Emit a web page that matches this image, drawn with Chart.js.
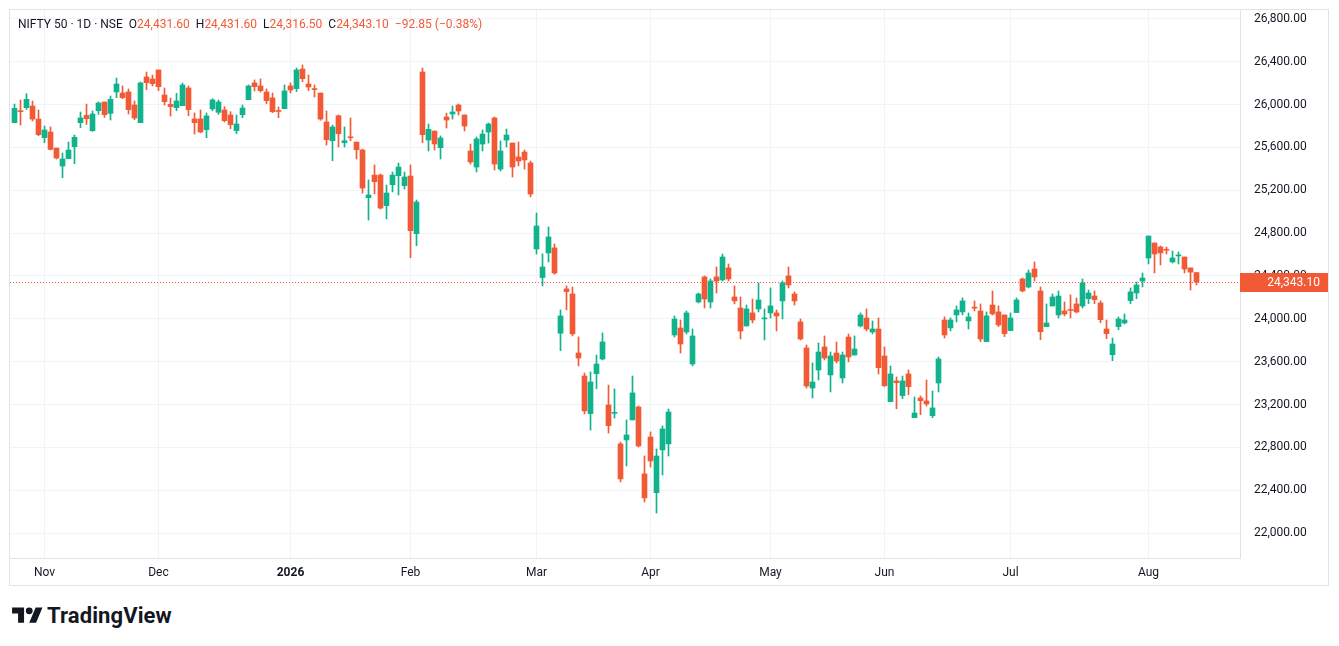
<!DOCTYPE html>
<html>
<head>
<meta charset="utf-8">
<title>NIFTY 50 · 1D · NSE</title>
<script src="https://cdn.jsdelivr.net/npm/chart.js@4.4.1/dist/chart.umd.min.js"></script>
<style>
  body { margin: 0; background: #fff; font-family: Roboto, 'Noto Sans', sans-serif; }
  #frame { position: absolute; left: 9px; top: 9px; width: 1318px; height: 575px; border: 1px solid #e0e3eb; }
  #chart-box { position: absolute; left: 0; top: 0; width: 1318px; height: 575px; }
  #legend { position: absolute; left: 8px; top: 7px; font-size: 12px; color: #131722; white-space: nowrap; }
  #legend .val { color: #f15a35; }
  #legend .gap { margin-left: 6px; }
  #logo { position: absolute; left: 12px; top: 603px; display: flex; align-items: center; color: #131722; }
  #logo span { font-size: 22px; font-weight: 700; margin-left: 4px; letter-spacing: 0.1px; }
</style>
</head>
<body>
<div id="frame">
  <div id="chart-box"><canvas id="candles"></canvas></div>
  <div id="legend"></div>
</div>
<div id="logo">
  <svg width="31" height="24" viewBox="0 0 36 28" fill="#131722"><path d="M14 22H7V11H0V4h14v18zM28 22h-8l7.5-18h8L28 22z"/><circle cx="20" cy="8" r="4"/></svg>
  <span>TradingView</span>
</div>
<script>
// Daily OHLC, one entry per trading session (late Oct 2025 .. mid Aug 2026)
const opens = [
  25831, 25940, 25971, 25987, 25865, 25691, 25744, 25594, 25426, 25495,
  25607, 25831, 25899, 25756, 25943, 26024, 25918, 26118, 26108, 26118,
  25996, 25831, 26258, 26239, 26323, 26090, 26002, 25971, 25990, 26155,
  25866, 25866, 25766, 25959, 25928, 25950, 25903, 25757, 25906, 26046,
  26202, 26174, 26118, 26062, 25940, 25962, 26174, 26149, 26332, 26192,
  26146, 26108, 25837, 25663, 25896, 25644, 25694, 25650, 25576, 25131,
  25342, 25342, 25056, 25252, 25336, 25243, 25333, 24795, 26304, 25669,
  25753, 25598, 25884, 25912, 25996, 25903, 25567, 25417, 25632, 25744,
  25875, 25398, 25669, 25641, 25511, 25557, 25455, 24652, 24385, 24615,
  24662, 23865, 24279, 24232, 23681, 23466, 23115, 23488, 23625, 23196,
  23118, 22832, 22869, 23056, 23177, 22552, 22897, 22377, 22776, 22832,
  23849, 23914, 23877, 23578, 24157, 24391, 24157, 24391, 24363, 24475,
  24204, 24101, 23933, 24055, 24092, 23999, 24055, 24055, 24167, 24400,
  24232, 23971, 23728, 23354, 23522, 23737, 23476, 23681, 23448, 23830,
  23662, 23933, 24008, 23877, 23905, 23653, 23227, 23420, 23283, 23485,
  23077, 23261, 23233, 23096, 23401, 23989, 23915, 24036, 24064, 23980,
  24107, 24073, 23787, 24129, 24064, 24036, 23890, 24058, 24372, 24297,
  24465, 24260, 23927, 24120, 24036, 24073, 24083, 24139, 24120, 24188,
  24213, 24148, 23905, 23665, 23927, 23961, 24170, 24241, 24353, 24568,
  24708, 24671, 24643, 24531, 24587, 24577, 24475, 24431.6
];
const highs = [
  26005, 26043, 26102, 26033, 25949, 25800, 25791, 25594, 25548, 25650,
  25716, 25931, 26005, 25940, 26024, 26024, 26080, 26248, 26174, 26146,
  26034, 26211, 26304, 26276, 26323, 26155, 26062, 26105, 26202, 26174,
  25922, 25950, 25922, 26055, 26043, 25981, 25934, 25903, 25996, 26183,
  26230, 26239, 26146, 26108, 25978, 26183, 26202, 26342, 26370, 26276,
  26183, 26108, 25940, 25809, 25903, 25791, 25875, 25650, 25585, 25296,
  25436, 25352, 25249, 25370, 25454, 25370, 25436, 25109, 26341, 25819,
  25753, 25707, 25921, 25987, 26005, 25903, 25632, 25697, 25763, 25828,
  25884, 25660, 25772, 25641, 25651, 25576, 25473, 24988, 24606, 24858,
  24699, 24083, 24307, 24297, 23831, 23494, 23504, 23662, 23868, 23382,
  23345, 22850, 23056, 23466, 23186, 22720, 22944, 22785, 23000, 23158,
  24026, 23989, 24073, 23905, 24241, 24400, 24372, 24484, 24605, 24512,
  24307, 24204, 24129, 24185, 24335, 24092, 24288, 24083, 24353, 24484,
  24251, 23999, 23756, 23588, 23774, 23840, 23690, 23784, 23690, 23858,
  23840, 24055, 24092, 23980, 24008, 23737, 23560, 23457, 23466, 23522,
  23270, 23280, 23429, 23326, 23644, 24017, 24008, 24120, 24195, 24055,
  24167, 24139, 24064, 24260, 24120, 24036, 24055, 24195, 24381, 24456,
  24531, 24297, 24139, 24232, 24260, 24157, 24223, 24195, 24372, 24269,
  24260, 24167, 23989, 23821, 24017, 24045, 24288, 24344, 24428, 24773,
  24708, 24680, 24671, 24633, 24624, 24577, 24475, 24431.6
];
const lows = [
  25831, 25809, 25955, 25847, 25710, 25644, 25576, 25492, 25317, 25495,
  25448, 25784, 25815, 25750, 25909, 25881, 25856, 26065, 26055, 25912,
  25859, 25831, 26139, 26174, 26130, 25996, 25893, 25943, 25990, 25897,
  25725, 25738, 25691, 25943, 25909, 25838, 25775, 25729, 25878, 26046,
  26127, 26118, 26009, 25925, 25878, 25962, 26108, 26121, 26214, 26130,
  26071, 25853, 25622, 25476, 25604, 25604, 25663, 25492, 25174, 24922,
  25165, 25025, 24932, 25184, 25156, 25212, 24571, 24683, 25644, 25567,
  25576, 25492, 25781, 25865, 25903, 25753, 25445, 25370, 25567, 25641,
  25389, 25380, 25604, 25324, 25427, 25398, 25137, 24605, 24307, 24531,
  24416, 23703, 24083, 23840, 23560, 23112, 22962, 23348, 23616, 22934,
  23074, 22477, 22626, 23056, 22804, 22290, 22617, 22187, 22542, 22719,
  23830, 23681, 23858, 23560, 24148, 24101, 24101, 24241, 24353, 24353,
  24139, 23812, 23933, 23961, 24064, 23802, 24008, 23887, 23999, 24288,
  24129, 23802, 23354, 23261, 23429, 23616, 23317, 23588, 23401, 23597,
  23662, 23924, 23887, 23859, 23485, 23367, 23227, 23161, 23255, 23292,
  23077, 23105, 23186, 23077, 23317, 23821, 23887, 23971, 24036, 23905,
  24073, 23787, 23787, 24036, 23927, 23834, 23890, 24058, 24251, 24288,
  24353, 23806, 23927, 24120, 24008, 24027, 24008, 24055, 24101, 24142,
  24142, 23964, 23815, 23609, 23899, 23952, 24142, 24188, 24297, 24512,
  24428, 24503, 24605, 24521, 24512, 24428, 24269, 24316.5
];
const closes = [
  25965, 25934, 26049, 25865, 25719, 25763, 25582, 25501, 25492, 25576,
  25694, 25875, 25868, 25912, 26015, 25906, 26049, 26192, 26065, 25953,
  25875, 26202, 26205, 26195, 26167, 26027, 25981, 26034, 26183, 25953,
  25831, 25744, 25894, 26043, 26024, 25850, 25813, 25819, 25968, 26174,
  26167, 26130, 26037, 25934, 25936, 26127, 26136, 26323, 26242, 26164,
  26140, 25865, 25672, 25791, 25728, 25663, 25690, 25579, 25221, 25156,
  25280, 25034, 25174, 25342, 25417, 25324, 24823, 25090, 25719, 25769,
  25632, 25688, 25856, 25931, 25940, 25800, 25464, 25679, 25725, 25819,
  25445, 25567, 25716, 25417, 25473, 25483, 25165, 24866, 24484, 24764,
  24428, 24027, 24254, 23859, 23634, 23140, 23410, 23578, 23784, 23003,
  23122, 22505, 22916, 23308, 22813, 22328, 22673, 22719, 22972, 23130,
  23998, 23765, 24055, 23840, 24232, 24185, 24353, 24353, 24577, 24372,
  24167, 23886, 24092, 23989, 24176, 24005, 24120, 24027, 24335, 24316,
  24167, 23812, 23373, 23410, 23690, 23634, 23653, 23606, 23662, 23644,
  23718, 24036, 23905, 23905, 23544, 23376, 23485, 23404, 23420, 23367,
  23121, 23236, 23205, 23168, 23625, 23849, 23989, 24083, 24167, 24017,
  24100, 23812, 24027, 24045, 23943, 23862, 24008, 24176, 24260, 24428,
  24391, 23880, 23961, 24204, 24213, 24045, 24078, 24064, 24335, 24241,
  24179, 23992, 23862, 23765, 23998, 23989, 24251, 24316, 24381, 24773,
  24605, 24615, 24640, 24568, 24590, 24465, 24435.95, 24343.1
];

// Month boundaries on the session axis and their labels
const monthIdx = [5, 24, 46, 66, 87, 106, 126, 145, 166, 189];
const monthLabels = ['Nov', 'Dec', '2026', 'Feb', 'Mar', 'Apr', 'May', 'Jun', 'Jul', 'Aug'];

// Price axis ticks
const priceTicks = [22000, 22400, 22800, 23200, 23600, 24000, 24400, 24800, 25200, 25600, 26000, 26400, 26800];

const upColor = '#10b38b';
const downColor = '#f15a35';
const gridColor = '#f0f3fa';
const textColor = '#131722';

function formatPrice(v) {
  return v.toLocaleString('en-US', { minimumFractionDigits: 2, maximumFractionDigits: 2 });
}

function candleColor(i) {
  return closes[i] >= opens[i] ? upColor : downColor;
}

// Header line with last session values
function buildLegend() {
  const n = closes.length - 1;
  const change = closes[n] - closes[n - 1];
  const pct = change / closes[n - 1] * 100;
  const sign = change < 0 ? '\u2212' : '+';
  const legend = document.getElementById('legend');
  legend.innerHTML =
    '<span>NIFTY 50 \u00b7 1D \u00b7 NSE</span>' +
    '<span class="gap">O</span><span class="val">' + formatPrice(opens[n]) + '</span>' +
    '<span class="gap">H</span><span class="val">' + formatPrice(highs[n]) + '</span>' +
    '<span class="gap">L</span><span class="val">' + formatPrice(lows[n]) + '</span>' +
    '<span class="gap">C</span><span class="val">' + formatPrice(closes[n]) + '</span>' +
    '<span class="gap val">' + sign + Math.abs(change).toFixed(2) + ' (' + sign + Math.abs(pct).toFixed(2) + '%)</span>';
}

// Dotted last-price line and its tag on the price axis
const lastPricePlugin = {
  id: 'lastPrice',
  afterDraw(chart) {
    const { ctx, chartArea, scales } = chart;
    const last = closes[closes.length - 1];
    const y = Math.round(scales.y.getPixelForValue(last)) + 0.5;
    ctx.save();
    ctx.strokeStyle = downColor;
    ctx.lineWidth = 1;
    ctx.setLineDash([1, 2]);
    ctx.beginPath();
    ctx.moveTo(chartArea.left, y);
    ctx.lineTo(chartArea.right, y);
    ctx.stroke();
    ctx.setLineDash([]);
    ctx.fillStyle = downColor;
    ctx.fillRect(chartArea.right, y - 9.5, scales.y.width, 19);
    ctx.fillStyle = '#ffffff';
    ctx.font = '12px Roboto';
    ctx.textBaseline = 'middle';
    ctx.textAlign = 'right';
    ctx.fillText(formatPrice(last), chartArea.right + 80, y);
    ctx.restore();
  }
};

function setupChart() {
  const ctx = document.getElementById('candles').getContext('2d');
  const bodies = opens.map((o, i) => ({ x: i, y: [o, closes[i]] }));
  const wicks = lows.map((l, i) => ({ x: i, y: [l, highs[i]] }));
  const colors = opens.map((o, i) => candleColor(i));

  new Chart(ctx, {
    type: 'bar',
    data: {
      datasets: [
        {
          label: 'Body',
          data: bodies,
          backgroundColor: colors,
          barThickness: 5,
          minBarLength: 1,
          grouped: false,
          borderWidth: 0
        },
        {
          label: 'Wick',
          data: wicks,
          backgroundColor: colors,
          barThickness: 1,
          minBarLength: 1,
          grouped: false,
          borderWidth: 0
        }
      ]
    },
    options: {
      responsive: true,
      maintainAspectRatio: false,
      animation: false,
      events: [],
      layout: { padding: 0 },
      plugins: {
        legend: { display: false },
        tooltip: { enabled: false }
      },
      scales: {
        x: {
          type: 'linear',
          min: -0.75,
          max: 204.25,
          offset: false,
          afterBuildTicks: scale => { scale.ticks = monthIdx.map(v => ({ value: v })); },
          afterFit: scale => {
            scale.height = 27;
            scale.paddingLeft = 0;
            scale.paddingRight = 0;
          },
          grid: { color: gridColor, drawTicks: false, offset: false },
          border: { display: true, color: '#e0e3eb' },
          ticks: {
            autoSkip: false,
            maxRotation: 0,
            padding: 8,
            color: textColor,
            font: c => ({
              family: 'Roboto',
              size: 12,
              weight: c.tick && c.tick.label === '2026' ? 'bold' : 'normal'
            }),
            callback: value => {
              const k = monthIdx.indexOf(value);
              return k >= 0 ? monthLabels[k] : '';
            }
          }
        },
        y: {
          position: 'right',
          min: 21767,
          max: 26883,
          afterBuildTicks: scale => { scale.ticks = priceTicks.map(v => ({ value: v })); },
          afterFit: scale => {
            // keep the plot flush with the top of the frame
            scale.width = 88;
            scale.paddingTop = 0;
            scale.paddingBottom = 0;
          },
          grid: { color: gridColor, drawTicks: false },
          border: { display: true, color: '#e0e3eb' },
          ticks: {
            padding: 14,
            color: textColor,
            font: { family: 'Roboto', size: 12 },
            callback: value => formatPrice(value)
          }
        }
      }
    },
    plugins: [lastPricePlugin]
  });
}

buildLegend();
setupChart();
</script>
</body>
</html>
